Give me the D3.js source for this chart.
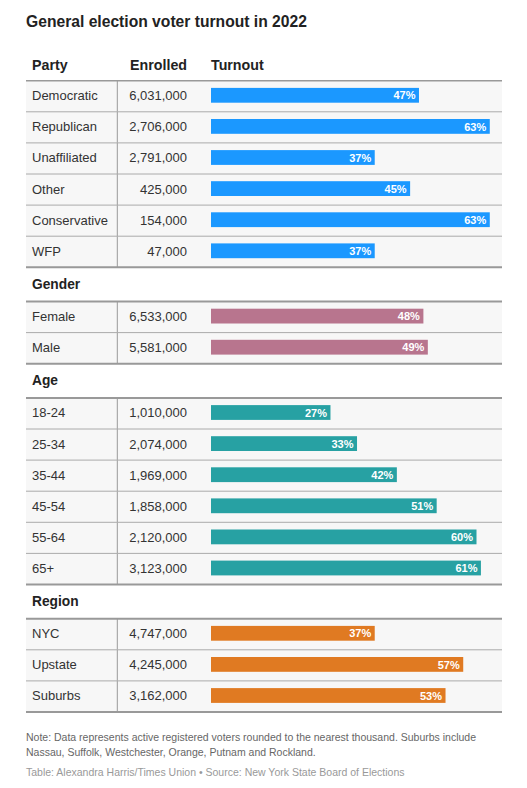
<!DOCTYPE html>
<html>
<head>
<meta charset="utf-8">
<script src="https://cdn.jsdelivr.net/npm/d3@7"></script>
<style>
  html, body { margin: 0; padding: 0; background: #ffffff; }
  svg { display: block; }
</style>
</head>
<body>
<div id="chart"></div>
<script>
// ---- Data ----
const partyCategories = ["Democratic", "Republican", "Unaffiliated", "Other", "Conservative", "WFP"];
const partyEnrolled   = [6031000, 2706000, 2791000, 425000, 154000, 47000];
const partyTurnout    = [47, 63, 37, 45, 63, 37];

const genderCategories = ["Female", "Male"];
const genderEnrolled   = [6533000, 5581000];
const genderTurnout    = [48, 49];

const ageCategories = ["18-24", "25-34", "35-44", "45-54", "55-64", "65+"];
const ageEnrolled   = [1010000, 2074000, 1969000, 1858000, 2120000, 3123000];
const ageTurnout    = [27, 33, 42, 51, 60, 61];

const regionCategories = ["NYC", "Upstate", "Suburbs"];
const regionEnrolled   = [4747000, 4245000, 3162000];
const regionTurnout    = [37, 57, 53];

const sectionTitles = ["Party", "Gender", "Age", "Region"];
const sectionColors = ["#1b98ff", "#b8758e", "#27a1a3", "#e07a22"];

const titleText = "General election voter turnout in 2022";
const columnHeaders = ["Enrolled", "Turnout"];
const noteLines = [
  "Note: Data represents active registered voters rounded to the nearest thousand. Suburbs include",
  "Nassau, Suffolk, Westchester, Orange, Putnam and Rockland."
];
const sourceText = "Table: Alexandra Harris/Times Union \u2022 Source: New York State Board of Elections";

// ---- Build table ----
const sections = [
  { title: sectionTitles[0], cats: partyCategories, enrolled: partyEnrolled, turnout: partyTurnout, color: sectionColors[0] },
  { title: sectionTitles[1], cats: genderCategories, enrolled: genderEnrolled, turnout: genderTurnout, color: sectionColors[1] },
  { title: sectionTitles[2], cats: ageCategories, enrolled: ageEnrolled, turnout: ageTurnout, color: sectionColors[2] },
  { title: sectionTitles[3], cats: regionCategories, enrolled: regionEnrolled, turnout: regionTurnout, color: sectionColors[3] }
];

const W = 527, H = 788;
const left = 26, right = 502;
const sepX = 117.3;
const enrolledX = 187;
const barX = 211;
const rowH = 31.1;
const secH = 34.2;

const body = "'Liberation Sans', Arial, Helvetica, sans-serif";

const x = d3.scaleLinear().domain([0, 100]).range([0, 442.5]);
const fmt = d3.format(",");

const svg = d3.select("#chart").append("svg").attr("width", W).attr("height", H);

// condensed bold text helper (horizontal squeeze of a bold sans)
let sx = 1;
function condText(parent, tx, ty, size, anchor, txt) {
  return parent.append("text")
    .attr("transform", `translate(${tx},${ty}) scale(${sx},1)`)
    .attr("text-anchor", anchor)
    .attr("font-family", body).attr("font-weight", "bold")
    .attr("font-size", size).attr("fill", "#222")
    .text(txt);
}

const title = svg.append("text")
  .attr("font-family", body).attr("font-weight", "bold")
  .attr("font-size", 16.5).attr("fill", "#222")
  .text(titleText);
sx = 281 / title.node().getComputedTextLength();
title.attr("transform", `translate(${left},26.7) scale(${sx},1)`);

// layout
let y = 80.7;
const rows = [];
const lines = [];
const secHeads = [];
sections.forEach((s, si) => {
  if (si > 0) {
    lines.push({ y: y, w: 2 });
    secHeads.push({ title: s.title, y: y });
    y += secH;
    lines.push({ y: y, w: 2 });
  } else {
    lines.push({ y: y, w: 1.5 });
  }
  s.cats.forEach((c, i) => {
    rows.push({ cat: c, enrolled: s.enrolled[i], turnout: s.turnout[i], color: s.color, y: y });
    y += rowH;
    if (i < s.cats.length - 1) lines.push({ y: y, w: 1 });
  });
});
lines.push({ y: y, w: 2 });

// header row
condText(svg, 32, 70, 15, "start", sectionTitles[0]);
condText(svg, enrolledX, 70, 15, "end", columnHeaders[0]);
condText(svg, barX, 70, 15, "start", columnHeaders[1]);

const rg = svg.append("g").selectAll("g").data(rows).join("g")
  .attr("transform", d => `translate(0,${d.y})`);

rg.append("rect").attr("x", left).attr("y", 0).attr("width", right - left).attr("height", rowH).attr("fill", "#f7f7f7");
rg.append("line").attr("x1", sepX).attr("x2", sepX).attr("y1", 0).attr("y2", rowH)
  .attr("stroke", "#999").attr("stroke-width", 1);
rg.append("text").attr("x", 32).attr("y", 19.6)
  .attr("font-family", body).attr("font-size", 13).attr("fill", "#333")
  .text(d => d.cat);
rg.append("text").attr("x", enrolledX).attr("y", 19.6).attr("text-anchor", "end")
  .attr("font-family", body).attr("font-size", 13).attr("fill", "#333")
  .text(d => fmt(d.enrolled));
rg.append("rect").attr("x", barX).attr("y", 7.2).attr("height", 14.8)
  .attr("width", d => x(d.turnout)).attr("fill", d => d.color);
rg.append("text").attr("x", d => barX + x(d.turnout) - 3.5).attr("y", 18.8).attr("text-anchor", "end")
  .attr("font-family", body).attr("font-weight", "bold").attr("font-size", 11).attr("fill", "#fff")
  .text(d => d.turnout + "%");

// section headers
const shg = svg.append("g");
secHeads.forEach(d => condText(shg, 32, d.y + 21.6, 14.5, "start", d.title));

// lines
svg.append("g").selectAll("line").data(lines).join("line")
  .attr("x1", left).attr("x2", right)
  .attr("y1", d => d.y).attr("y2", d => d.y)
  .attr("stroke", d => d.w > 1 ? "#999" : "#aaa")
  .attr("stroke-width", d => d.w);

// footer
svg.append("g").selectAll("text").data(noteLines).join("text")
  .attr("x", left).attr("y", (d, i) => 740.7 + i * 15.4)
  .attr("font-family", body).attr("font-size", 10.5).attr("fill", "#666")
  .text(d => d);
svg.append("text").attr("x", left).attr("y", 776)
  .attr("font-family", body).attr("font-size", 10.5).attr("fill", "#999")
  .text(sourceText);
</script>
</body>
</html>
